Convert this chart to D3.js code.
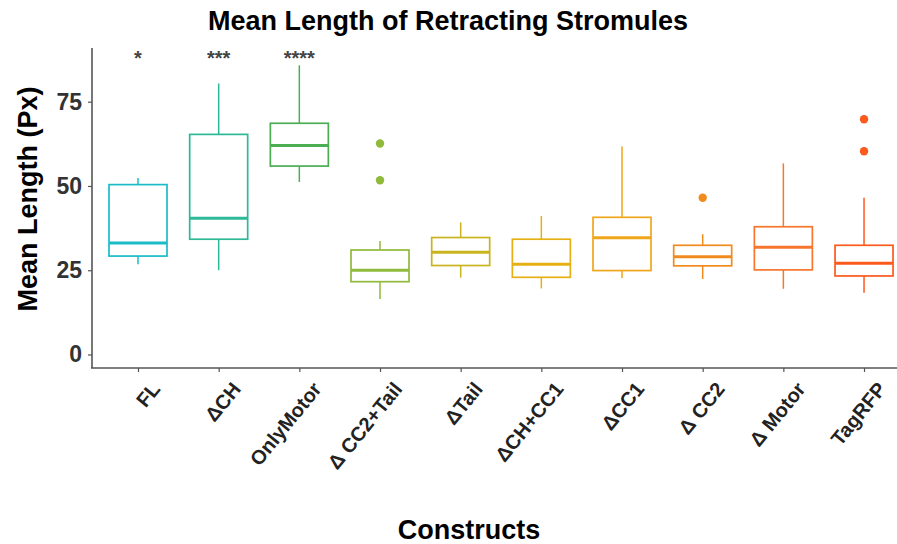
<!DOCTYPE html>
<html>
<head>
<meta charset="utf-8">
<script src="https://cdnjs.cloudflare.com/ajax/libs/d3/7.8.5/d3.min.js"></script>
<style>
  body { margin: 0; background: #fff; }
  text { font-family: "Liberation Sans", Arial, sans-serif; }
</style>
</head>
<body>
<div id="chart"></div>
<script>
var svgWidth = 897;
var svgHeight = 544;

// data
var constructs = ["FL", "\u0394CH", "OnlyMotor", "\u0394 CC2+Tail", "\u0394Tail", "\u0394CH+CC1", "\u0394CC1", "\u0394 CC2", "\u0394 Motor", "TagRFP"];
var whiskerLow  = [26.8, 25.0, 51.2, 16.5, 22.8, 19.6, 22.7, 22.4, 19.5, 18.3];
var q1          = [29.2, 34.2, 55.9, 21.6, 26.4, 22.9, 24.9, 26.3, 25.1, 23.3];
var medians     = [33.1, 40.4, 62.0, 25.0, 30.3, 26.8, 34.6, 29.0, 31.8, 27.1];
var q3          = [50.4, 65.3, 68.6, 31.0, 34.7, 34.2, 40.7, 32.4, 37.9, 32.4];
var whiskerHigh = [52.4, 80.4, 85.8, 33.7, 39.2, 41.1, 61.7, 35.7, 56.7, 46.5];
var outliers    = [[], [], [], [62.6, 51.7], [], [], [], [46.5], [], [69.8, 60.3]];
var signif      = ["*", "***", "****", "", "", "", "", "", "", ""];
var colors = ["#1bbcc8", "#2db897", "#4cae52", "#8fba3c", "#c9b41e", "#e6b014", "#f0a61a", "#f28b1e", "#f7762c", "#fc591c"];
var yTicks = [0, 25, 50, 75];

var margin = {left: 92, top: 48};
var plotBottom = 368;

var svg = d3.select("#chart").append("svg")
  .attr("width", svgWidth)
  .attr("height", svgHeight);

var yScale = d3.scaleLinear()
  .domain([0, 75])
  .range([354.5, 101.7]);

// centres at 138 .. 864, ~80.7px apart
var step = 80.67;
var xScale = d3.scalePoint()
  .domain(constructs)
  .range([138, 138 + step * 9]);
var boxW = 58;

// title
svg.append("text")
  .attr("x", 448)
  .attr("y", 30)
  .attr("text-anchor", "middle")
  .attr("font-size", "27px")
  .attr("font-weight", "bold")
  .text("Mean Length of Retracting Stromules");

// y axis
var yAxis = svg.append("g")
  .attr("transform", `translate(${margin.left}, 0)`)
  .call(d3.axisLeft(yScale).tickValues(yTicks).tickSize(4).tickPadding(6));
yAxis.select(".domain").remove();
yAxis.append("line")
  .attr("x1", 0).attr("x2", 0)
  .attr("y1", margin.top).attr("y2", plotBottom)
  .attr("stroke", "#555").attr("stroke-width", 1.6);
yAxis.selectAll(".tick line").attr("stroke", "#555").attr("stroke-width", 1.2);
yAxis.selectAll(".tick text")
  .attr("font-size", "23px")
  .attr("font-weight", "bold")
  .attr("fill", "#333");

// x axis
var xAxis = svg.append("g")
  .attr("transform", `translate(0, ${plotBottom})`)
  .call(d3.axisBottom(xScale).tickSize(4).tickPadding(4));
xAxis.select(".domain").remove();
xAxis.append("line")
  .attr("x1", margin.left - 1).attr("x2", svgWidth)
  .attr("y1", 0).attr("y2", 0)
  .attr("stroke", "#555").attr("stroke-width", 1.6);
xAxis.selectAll(".tick line").attr("stroke", "#555").attr("stroke-width", 1.2);
xAxis.selectAll(".tick text")
  .attr("font-size", "20px")
  .attr("font-weight", "bold")
  .attr("fill", "#222")
  .attr("text-anchor", "end")
  .attr("dy", "0.75em")
  .attr("transform", "translate(11, 12) rotate(-51)")
  .attr("y", 0);

// axis titles
svg.append("text")
  .attr("transform", "translate(37, 199) rotate(-90)")
  .attr("text-anchor", "middle")
  .attr("font-size", "27px")
  .attr("font-weight", "bold")
  .text("Mean Length (Px)");

svg.append("text")
  .attr("x", 469)
  .attr("y", 539)
  .attr("text-anchor", "middle")
  .attr("font-size", "27px")
  .attr("font-weight", "bold")
  .text("Constructs");

// boxes
var boxes = svg.selectAll(".box")
  .data(constructs)
  .enter()
  .append("g")
  .attr("class", "box");

boxes.append("line")
  .attr("x1", d => xScale(d)).attr("x2", d => xScale(d))
  .attr("y1", (d, i) => yScale(whiskerHigh[i]))
  .attr("y2", (d, i) => yScale(q3[i]))
  .attr("stroke", (d, i) => colors[i]).attr("stroke-width", 1.5);

boxes.append("line")
  .attr("x1", d => xScale(d)).attr("x2", d => xScale(d))
  .attr("y1", (d, i) => yScale(q1[i]))
  .attr("y2", (d, i) => yScale(whiskerLow[i]))
  .attr("stroke", (d, i) => colors[i]).attr("stroke-width", 1.5);

boxes.append("rect")
  .attr("x", d => xScale(d) - boxW / 2)
  .attr("width", boxW)
  .attr("y", (d, i) => yScale(q3[i]))
  .attr("height", (d, i) => yScale(q1[i]) - yScale(q3[i]))
  .attr("fill", "white")
  .attr("stroke", (d, i) => colors[i])
  .attr("stroke-width", 1.7);

boxes.append("line")
  .attr("x1", d => xScale(d) - boxW / 2).attr("x2", d => xScale(d) + boxW / 2)
  .attr("y1", (d, i) => yScale(medians[i]))
  .attr("y2", (d, i) => yScale(medians[i]))
  .attr("stroke", (d, i) => colors[i]).attr("stroke-width", 3);

boxes.each(function(d, i) {
  d3.select(this).selectAll("circle")
    .data(outliers[i])
    .enter()
    .append("circle")
    .attr("cx", xScale(d))
    .attr("cy", v => yScale(v))
    .attr("r", 4.2)
    .attr("fill", colors[i]);
});

// significance stars
svg.selectAll(".sig")
  .data(constructs)
  .enter()
  .append("text")
  .attr("class", "sig")
  .attr("x", d => xScale(d))
  .attr("y", yScale(89.1) + 11)
  .attr("text-anchor", "middle")
  .attr("font-size", "20px")
  .attr("font-weight", "bold")
  .attr("fill", "#444")
  .text((d, i) => signif[i]);
</script>
</body>
</html>
